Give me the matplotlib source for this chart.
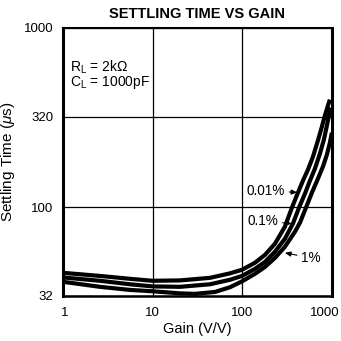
import matplotlib
matplotlib.use("Agg")
import matplotlib.pyplot as plt
from matplotlib.transforms import ScaledTranslation

plt.rcParams['font.family'] = ['Liberation Sans', 'DejaVu Sans']
plt.rcParams['mathtext.fontset'] = 'custom'
plt.rcParams['mathtext.rm'] = 'Liberation Sans'
plt.rcParams['mathtext.it'] = 'Liberation Sans:italic'

# Data (gain V/V, settling time us)
gain_001 = [1, 2.59, 5.58, 10, 20.2, 43.5, 72.7, 99, 138, 179, 231, 298, 357, 417,
            474, 539, 613, 696, 772, 833, 900, 947]
time_001 = [43.1, 41.4, 39.9, 38.9, 39.1, 40.4, 42.8, 44.8, 49.0, 54.3, 62.6, 77.9,
            99.4, 120.6, 140.6, 162.0, 191.4, 235.3, 281.8, 324.6, 368.9, 398.5]

gain_01 = [1, 2.59, 5.58, 10, 20.2, 43.5, 72.7, 99, 138, 179, 231, 298, 366, 428,
           499, 567, 645, 733, 812, 877, 923, 972]
time_01 = [40.6, 38.9, 37.2, 36.2, 36.0, 37.2, 39.4, 41.4, 45.3, 49.6, 56.5, 66.7,
           80.9, 99.4, 119.1, 140.6, 164.2, 199.0, 238.4, 285.5, 324.6, 359.6]

gain_1 = [1, 2.59, 5.58, 10, 20.2, 29.6, 49.5, 72.7, 99, 138, 179, 231, 298, 386,
          439, 512, 597, 696, 792, 877, 947, 997]
time_1 = [38.4, 36.0, 34.6, 34.0, 33.1, 32.9, 33.7, 35.8, 38.6, 42.5, 46.5, 52.2,
          60.2, 73.0, 82.0, 99.4, 120.6, 144.3, 168.5, 196.5, 229.2, 260.6]

x_ticks = [1, 10, 100, 1000]
x_tick_labels = ["1", "10", "100", "1000"]
y_ticks = [32, 100, 320, 1000]
y_tick_labels = ["32", "100", "320", "1000"]

fig = plt.figure(figsize=(3.41, 3.41), dpi=100)
ax = fig.add_axes([63/341, 45/341, 269/341, 268/341])
ax.set_xscale('log')
ax.set_yscale('log')
ax.set_xlim(1, 1000)
ax.set_ylim(32, 1000)

for g, t in [(gain_001, time_001), (gain_01, time_01), (gain_1, time_1)]:
    ax.plot(g, t, color='black', lw=3.0, solid_capstyle='butt', solid_joinstyle='round', zorder=3)

ax.set_xticks(x_ticks)
ax.set_xticklabels(x_tick_labels)
ax.set_yticks(y_ticks)
ax.set_yticklabels(y_tick_labels)
ax.minorticks_off()
ax.tick_params(axis='both', length=0, labelsize=9.5)
ax.tick_params(axis='x', pad=8)
ax.tick_params(axis='y', pad=7)
ax.grid(True, color='black', lw=0.9)

# shift edge x labels so they sit as in the reference
lbls = ax.get_xticklabels()
lbls[-1].set_transform(lbls[-1].get_transform() + ScaledTranslation(-7/100, 0, fig.dpi_scale_trans))
lbls[0].set_transform(lbls[0].get_transform() + ScaledTranslation(2/100, 0, fig.dpi_scale_trans))

for side, w in [('left', 2.2), ('right', 2.2), ('bottom', 1.8), ('top', 1.5)]:
    ax.spines[side].set_linewidth(w)

ax.set_xlabel("Gain (V/V)", fontsize=10.5, labelpad=2)
ax.set_ylabel("Settling Time ($\\mathit{\\mu}$s)", fontsize=11, labelpad=5)
fig.text(197/341, 1 - 14/341, "SETTLING TIME VS GAIN", ha='center', va='center',
         fontsize=10.5, fontweight='bold')

ax.text(0.026, 0.854, "R$_\\mathregular{L}$ = 2k\u03a9", transform=ax.transAxes,
        fontsize=10, va='center', ha='left')
ax.text(0.026, 0.795, "C$_\\mathregular{L}$ = 1000pF", transform=ax.transAxes,
        fontsize=10, va='center', ha='left')

arrow = dict(arrowstyle='-|>,head_length=0.35,head_width=0.15', color='black', lw=0.8,
             shrinkA=1, shrinkB=0)
ax.annotate("0.01%", xy=(410, 121), xytext=(183, 124), fontsize=9.8,
            ha='center', va='center', arrowprops=arrow)
ax.annotate("0.1%", xy=(357, 81), xytext=(170, 84), fontsize=9.8,
            ha='center', va='center', arrowprops=arrow)
ax.annotate("1%", xy=(298, 55.7), xytext=(582, 52.2), fontsize=9.8,
            ha='center', va='center', arrowprops=arrow)

fig.savefig("out.png", dpi=100)
